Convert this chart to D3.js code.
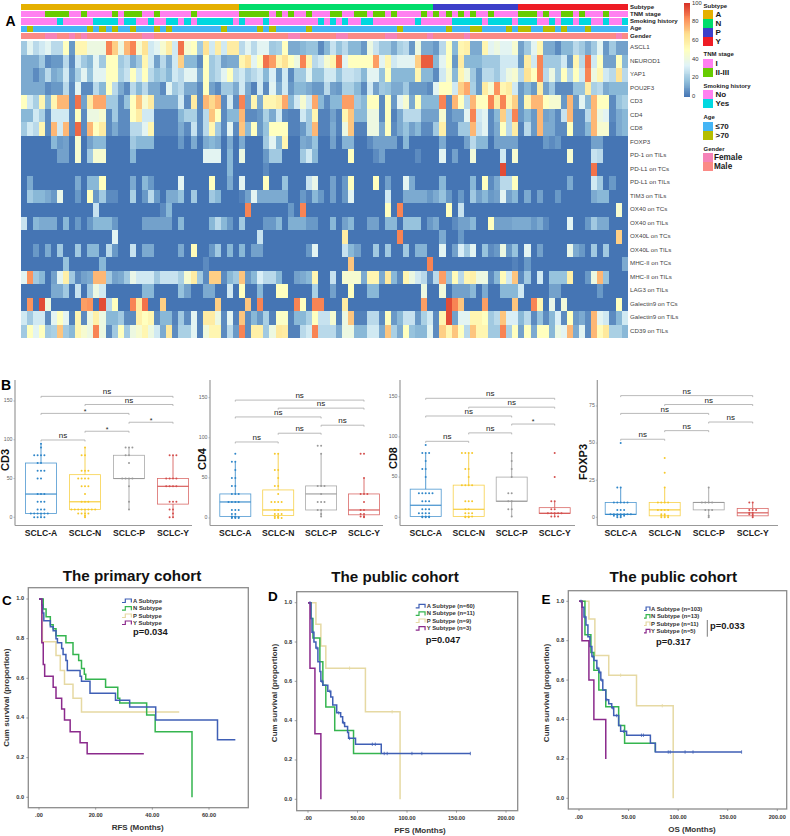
<!DOCTYPE html>
<html><head><meta charset="utf-8">
<script src="https://cdnjs.cloudflare.com/ajax/libs/d3/7.8.5/d3.min.js"></script>
<style>html,body{margin:0;padding:0;background:#fff}svg{display:block}text{font-family:"Liberation Sans",Arial,sans-serif}</style>
</head><body><svg id="c" width="790" height="836"></svg>
<script>
// ---------- Panel A data ----------
const geneLabels=["ASCL1","NEUROD1","YAP1","POU2F3","CD3","CD4","CD8","FOXP3","PD-1 on TILs","PD-L1 on TCs","PD-L1 on TILs","TIM3 on TILs","OX40 on TCs","OX40 on TILs","OX40L on TCs","OX40L on TILs","MHC-II on TCs","MHC-II on TILs","LAG3 on TILs","Galectin9 on TCs","Galectin9 on TILs","CD39 on TILs"];
const ASCL1=[20,35,25,30,35,25,25,50,8,55,55,40,40,40,85,70,40,75,85,45,65,30,35,45,60,30,88,45,50,20,65,30,60,30,60,60,
25,35,25,35,35,20,22,50,12,12,15,18,18,5,15,28,18,25,15,15,8,40,28,20,20,12,22,25,8,40,12,12,8,25,50,15,55,58,12,12,55,35,40,
35,35,45,10,20,35,55,12,12,5,15,15,25,20,12,20,35,8,20,10,10];
const NEUROD1=[12,12,12,20,5,8,8,25,5,30,20,15,35,20,50,50,20,25,12,20,55,30,10,25,12,30,70,15,15,5,50,20,25,10,12,12,
55,65,35,50,88,80,55,65,50,40,85,55,25,30,45,55,88,35,50,50,50,50,80,35,55,30,35,35,35,70,92,92,15,35,50,8,60,15,15,15,20,20,20,
30,30,30,8,60,30,85,20,20,20,30,8,55,25,88,30,50,10,10,50,15];
const YAP1=[12,12,5,12,25,12,15,30,8,22,35,18,35,35,50,50,22,28,50,30,50,25,18,22,15,30,25,35,35,12,50,20,25,35,50,25,
30,20,25,30,15,32,8,30,5,20,20,35,18,18,30,30,18,28,28,25,15,35,35,18,50,15,15,15,15,55,15,15,5,30,45,15,55,40,20,8,25,25,20,
30,40,45,25,65,50,85,25,40,20,50,25,50,30,85,40,55,30,25,65,25];
const POU2F3=[12,12,12,12,5,8,8,25,5,35,5,5,25,15,50,25,12,5,25,15,25,12,12,5,35,20,25,12,12,5,50,10,5,20,20,12,
30,12,3,30,5,35,12,30,8,15,15,12,8,8,25,10,8,22,22,15,5,30,10,20,18,12,12,20,8,8,8,5,35,50,50,30,70,78,22,8,60,45,82,
55,60,30,8,15,8,60,10,20,5,5,5,18,18,60,22,25,12,15,15,15];
const CD3=[50,30,22,55,15,55,75,75,5,88,10,60,78,78,20,20,5,18,50,72,45,60,12,12,12,12,30,5,60,5,75,68,75,5,30,5,
85,10,55,12,55,55,60,78,15,30,45,30,78,15,5,15,15,80,80,20,15,50,50,5,50,8,35,45,12,50,15,15,15,85,5,75,50,25,75,50,50,85,60,
85,55,70,8,55,75,75,50,45,45,8,75,8,35,15,75,50,50,5,18,22];
const CD4=[15,15,30,22,5,30,30,30,5,50,5,40,40,45,5,20,5,5,50,60,30,30,3,3,3,3,15,22,22,5,25,72,50,5,15,15,
75,5,5,8,22,12,30,5,3,3,30,20,55,3,3,10,3,55,72,15,15,40,40,5,50,3,12,25,25,25,10,10,10,45,5,10,10,35,85,30,35,5,15,
70,25,85,8,15,8,75,10,12,5,28,75,5,5,25,75,40,35,5,12,15];
const CD8=[20,30,25,55,5,75,30,75,5,90,5,75,50,60,5,12,5,5,25,25,35,55,3,3,3,3,12,5,28,5,25,55,20,5,35,5,
72,15,50,8,18,50,50,50,3,3,8,20,75,3,3,12,3,40,72,3,3,40,40,12,50,5,12,18,10,15,5,5,20,58,5,5,20,20,75,28,35,5,12,
50,25,60,3,25,8,75,12,12,5,5,50,5,5,15,75,45,45,3,12,15];
const FOXP3=[0,0,0,0,0,15,8,10,0,45,0,10,15,15,0,0,0,0,20,15,15,15,0,0,0,0,8,0,12,0,12,15,12,0,12,0,
12,0,0,0,20,35,15,55,0,0,12,10,18,0,0,10,0,14,14,0,0,5,10,10,10,10,0,15,0,0,0,0,0,12,0,0,0,10,25,15,15,0,10,
10,10,10,0,0,0,0,8,5,8,0,0,0,0,0,10,10,0,0,0,0];
const PD1_TIL=[0,0,0,0,0,0,10,10,0,45,0,20,45,45,0,0,0,0,15,0,0,0,0,0,0,0,0,0,0,0,35,35,35,0,15,0,
40,0,0,0,8,20,20,0,0,0,20,30,15,0,0,0,0,0,50,0,0,0,5,10,0,0,0,0,0,5,0,0,0,35,0,10,0,0,42,0,0,0,0,
30,0,45,0,0,0,0,0,0,0,0,45,0,0,0,28,25,0,0,0,0];
const PDL1_TC=[0,0,0,0,0,0,0,0,0,0,0,0,0,0,0,0,0,0,0,0,0,0,0,0,0,0,0,0,0,0,0,0,0,0,15,0,
0,0,0,0,5,0,0,0,0,0,0,0,0,0,0,0,0,0,0,0,0,0,0,0,0,0,0,0,0,0,0,0,0,0,0,0,0,0,0,0,0,0,0,
95,0,0,0,0,0,0,0,0,0,0,0,0,0,0,88,0,0,0,0,0];
const PDL1_TIL=[0,12,0,0,0,0,0,0,0,12,0,15,15,50,0,0,0,0,12,0,15,8,0,0,0,0,35,0,0,0,0,50,0,0,12,0,
35,0,0,0,50,0,0,18,0,0,0,28,38,0,0,10,0,8,50,0,0,0,50,0,10,0,0,35,12,0,0,0,0,15,0,0,0,0,15,0,50,5,12,
25,25,50,0,0,0,0,0,0,0,0,12,0,0,0,30,20,0,8,0,0];
const TIM3_TIL=[0,20,15,15,12,8,38,0,0,8,0,50,8,20,5,5,0,0,22,0,8,25,8,0,12,12,18,0,20,0,0,20,15,0,0,0,
3,10,35,12,12,12,12,12,0,0,8,3,15,8,0,10,0,8,35,0,0,0,0,0,30,0,0,12,12,12,12,8,12,18,8,0,8,0,20,10,15,8,10,
35,10,15,0,12,0,10,0,0,8,0,0,0,0,0,12,15,15,0,0,0];
const OX40_TC=[0,0,0,0,0,0,0,0,0,0,0,0,28,0,0,0,0,0,0,0,0,0,0,5,15,0,0,0,0,0,0,0,0,0,0,0,
0,85,0,0,0,0,0,0,8,0,85,0,0,0,0,0,0,0,0,0,0,0,0,0,50,0,85,0,0,0,0,0,0,0,50,0,28,0,0,0,0,0,0,
0,0,0,0,0,0,0,0,0,0,0,0,0,0,0,0,0,0,0,45,0];
const OX40_TIL=[28,0,15,12,12,12,0,15,0,8,0,8,15,15,15,8,0,0,0,0,10,10,10,10,10,0,15,0,0,0,0,15,25,15,8,0,
20,0,0,0,8,8,15,0,13,13,13,8,8,0,0,15,0,10,15,0,0,10,10,0,15,15,0,18,18,18,0,8,12,0,0,5,10,10,15,0,0,50,10,
10,10,12,12,12,8,12,5,0,0,0,35,0,0,8,20,12,12,0,0,0];
const OX40L_TC=[0,0,0,0,0,0,0,0,0,0,0,0,0,0,0,35,0,0,0,0,0,0,0,0,0,0,0,0,0,0,0,0,0,0,0,0,
0,0,0,28,0,0,0,0,0,0,0,0,0,0,0,0,0,60,0,0,0,0,0,0,0,0,85,0,0,0,0,0,0,12,0,0,8,0,0,0,0,0,0,
0,0,0,0,0,0,0,0,0,0,0,0,0,0,0,0,0,0,0,70,0];
const OX40L_TIL=[0,0,8,0,12,0,20,0,0,20,0,15,15,0,25,8,0,0,28,0,12,12,0,0,0,0,12,0,52,0,0,8,20,0,15,0,
15,0,10,10,0,0,0,0,0,0,0,8,35,0,0,0,0,28,15,10,0,0,20,0,20,0,0,20,0,14,14,0,0,35,0,10,32,20,35,0,18,5,8,
40,8,18,0,35,0,10,0,0,0,0,38,12,8,0,20,0,20,0,0,0];
const MHC2_TC=[0,0,0,0,0,0,0,18,0,0,0,0,0,15,0,0,0,0,0,0,0,0,0,0,0,0,0,0,0,0,5,0,0,0,0,0,
0,0,0,0,0,0,0,0,0,0,0,0,0,0,0,0,0,0,72,0,0,0,0,0,0,0,0,0,0,0,0,85,0,0,0,0,0,0,0,0,0,0,0,
0,0,3,0,8,0,0,0,0,0,0,0,0,0,0,0,0,0,0,0,12];
const MHC2_TIL=[35,82,20,15,0,10,35,58,20,5,10,12,75,75,20,10,12,20,38,30,30,30,20,28,28,28,22,45,60,20,5,70,70,5,15,20,
72,8,15,32,25,25,15,0,0,10,12,15,55,0,0,28,0,45,45,45,12,55,55,12,62,15,5,55,40,30,25,5,25,80,18,52,25,55,58,40,40,5,15,
52,30,72,5,20,0,30,0,18,18,18,58,0,0,8,40,75,18,0,0,0];
const LAG3_TIL=[0,0,0,0,0,12,12,20,0,28,0,20,40,30,0,0,0,0,0,0,15,15,0,0,0,0,18,10,0,0,12,12,0,0,30,0,
50,0,0,15,0,0,50,50,0,0,0,0,22,0,0,10,0,0,50,0,0,15,15,0,0,0,0,0,0,0,40,0,0,42,0,10,10,10,15,0,12,0,0,
15,15,15,30,0,0,0,0,10,10,0,0,0,0,0,0,8,0,0,0,0];
const GAL9_TC=[0,82,0,95,40,0,0,0,0,0,80,82,0,95,25,50,0,0,85,60,88,0,0,70,0,0,0,0,0,0,0,0,70,0,0,0,
0,72,0,85,0,0,0,0,0,85,50,0,85,85,0,0,0,60,0,0,0,0,0,0,0,0,0,0,0,0,80,0,0,0,95,85,72,0,0,0,80,0,0,
0,0,72,0,0,85,55,0,38,0,42,0,0,0,0,0,0,0,0,50,0];
const GAL9_TIL=[30,20,30,30,5,35,50,35,3,55,5,40,58,40,15,15,20,5,5,58,50,55,5,15,15,3,20,5,35,3,60,60,40,5,35,3,
72,5,15,8,22,3,48,48,3,15,15,22,50,28,28,45,3,40,72,3,3,25,25,5,50,8,15,28,28,8,22,30,5,55,95,10,35,35,55,55,50,20,25,
72,32,32,15,25,5,18,5,15,32,5,50,8,12,5,75,35,30,5,15,30];
const CD39_TIL=[20,50,35,50,20,22,72,20,15,55,45,40,85,40,5,20,50,20,40,45,55,40,30,12,62,5,22,22,35,3,42,55,55,5,25,8,
85,5,58,58,20,40,62,60,3,3,25,30,85,25,25,25,12,40,40,15,15,30,30,12,72,22,12,50,18,15,15,35,5,70,55,72,50,25,72,55,55,20,20,
85,22,50,10,50,12,50,50,15,40,35,75,12,35,5,75,52,62,22,22,15];
const heatRows=[ASCL1,NEUROD1,YAP1,POU2F3,CD3,CD4,CD8,FOXP3,PD1_TIL,PDL1_TC,PDL1_TIL,TIM3_TIL,OX40_TC,OX40_TIL,OX40L_TC,OX40L_TIL,MHC2_TC,MHC2_TIL,LAG3_TIL,GAL9_TC,GAL9_TIL,CD39_TIL];
// annotation tracks: column index lists of the minority level
const subtypeEnds=[36,68,82,100];
const subtypeNames=["A","N","P","Y"];
const tnmAdvanced=[4,5,6,7,10,15,17,18,19,22,28,36,37,38,39,40,42,44,47,51,52,55,56,58,59,61,66,68,70,72,74,77,82,83,84,86,89,90,92,96];
const smokingYes=[6,12,13,14,15,17,18,21,24,25,27,29,30,31,32,33,34,36,40,49,51,53,56,57,65,71,72,73,74,75,77,78,79,80,82,83,84,87,89,90,92,93,96,99];
const ageOver70=[1,11,13,15,18,22,24,33,39,41,47,62,70,74,75,80,82,83,86,87,89,93];
const femaleCols=[4,5,8,10,20,21,44,45,52,53,60,61,67,73,98];
const annoLabels=["Subtype","TNM stage","Smoking history","Age","Gender"];
const legendGroups=[["Subtype",["A","N","P","Y"]],["TNM stage",["I","II-III"]],["Smoking history",["No","Yes"]],["Age",["≤70",">70"]],["Gender",["Female","Male"]]];
const colorbarTicks=[0,20,40,60,80,100];
const heatStops=["#4575B4","#91BFDB","#E0F3F8","#FFFFBF","#FEE090","#FC8D59","#D73027"];

// ---------- Panel B data ----------
const boxCats=["SCLC-A","SCLC-N","SCLC-P","SCLC-Y"];
const boxColors=["#2f86c9","#f6c92c","#9a9a9a","#d4504e"];
// [q1, median, q3, whisker low, whisker high]
const cd3Box=[[5,30,70,0,95],[10,20,55,0,90],[50,50,80,10,90],[17,40,50,0,80]];
const cd4Box=[[2,20,30,0,70],[3,10,35,0,80],[10,30,40,2,80],[4,10,30,1,50]];
const cd8Box=[[1,15,35,0,80],[1,10,40,0,80],[20,20,50,1,80],[5,5,12,1,20]];
const foxBox=[[2,2,10,0,20],[1,5,10,0,20],[5,10,10,0,20],[1,3,6,0,10]];
const cd3Pts=[[95,90,80,80,80,80,70,70,60,60,60,50,50,30,30,30,20,20,20,10,10,10,5,5,5,5,5,5,0,0,0,0],[90,80,80,60,60,60,50,50,50,50,40,40,40,30,20,20,20,10,10,10,10,10,10,10,10,5,5,5,5,2,0],[90,90,90,80,80,70,50,50,50,50,40,20,10],[80,80,80,50,50,50,50,40,40,40,40,20,20,20,10,10,5,0,0]];
const cd4Pts=[[80,70,70,60,50,50,40,40,30,30,30,20,20,20,20,10,10,10,5,5,2,2,1,1,1,0,0,0],[80,80,60,60,50,40,40,30,20,20,20,20,10,10,5,5,5,2,2,1,0,0,0],[90,90,80,40,40,40,30,20,20,20,10,10,5,2],[80,80,50,30,30,30,20,10,10,5,5,2,2,1]];
const cd8Pts=[[90,80,80,80,70,60,60,50,30,30,30,30,30,20,20,20,10,10,10,5,5,5,5,1,1,1,0,0,0],[80,80,80,80,60,60,50,40,40,40,40,20,20,20,10,10,5,5,5,1,1,1,0,0],[80,70,60,50,30,30,20,20,10,10,1],[80,50,20,20,10,10,5,5,5,5,5,1,1,1]];
const foxPts=[[50,20,20,10,10,10,10,10,5,5,5,2,2,2,2,2,2,2,1,1,1,1,0,0],[40,30,20,10,10,10,10,5,5,5,5,2,2,1,1,1,0,0,0],[20,10,10,10,10,5,5,5,1,0],[10,10,5,5,5,3,3,2,2,1,0]];
// comparison brackets: from-category, to-category
const bracketPairs=[[0,3],[1,3],[0,2],[2,3],[1,2],[0,1]];
const cd3Levels=[156,145.5,134,122.6,111,99.7], cd3Sig=["ns","ns","*","*","*","ns"];
const cd4Levels=[147,137,126,115.7,105.7,94.8], cd4Sig=["ns","ns","ns","ns","ns","ns"];
const cd8Levels=[148,137,126,116,105,94.5], cd8Sig=["ns","ns","ns","*","ns","ns"];
const foxLevels=[82,76,70,64.2,58.4,52.6], foxSig=["ns","ns","ns","ns","ns","ns"];
const cd3Ticks=[0,50,100,150], cd4Ticks=[0,50,100,150], cd8Ticks=[0,50,100,150], foxTicks=[0,25,50,75];

// ---------- Panels C-E data ----------
const kmColors=["#3f5fb5","#35b54f","#e6d9a3","#8b2a8c"];
const survTicks=[0,0.2,0.4,0.6,0.8,1.0];
const rfsAt=[0,1,1.3,1.7,2,4,5,6,6.5,8,8.5,9.5,10,14.5,15,18,27,32,41.2,63,69.3], rfsAs=[1,.97,.93,.89,.89,.86,.84,.80,.78,.75,.72,.69,.64,.61,.585,.525,.49,.455,.39,.29,.29];
const rfsNt=[0,1.5,2.5,4,5,6,9.5,12,14,15,16,16.5,23.5,27.8,28.5,38,41,54,54], rfsNs=[1,.95,.91,.87,.85,.815,.78,.72,.69,.65,.62,.595,.555,.5,.475,.415,.33,.33,0];
const rfsPt=[0,1.2,6,7.5,9,12,15,49.5], rfsPs=[1,.785,.715,.64,.57,.5,.43,.43];
const rfsYt=[0,1,1.5,2,5,6,8,9,11,14.5,17,37], rfsYs=[1,.78,.67,.61,.555,.5,.445,.39,.33,.275,.22,.22];
const pfsAt=[0,1,3,4,6,8,10,12,13,15,20,23,25,29,33,35,37,40,41,48,74,164], pfsAs=[1,1,.92,.85,.80,.77,.70,.65,.60,.58,.55,.52,.48,.44,.42,.39,.37,.34,.31,.28,.233,.233];
const pfsNt=[0,3,5,12,15,18,27,46,74], pfsNs=[1,.92,.82,.70,.58,.47,.35,.233,.233];
const pfsPt=[0,5,8,13,18,58,93,93], pfsPs=[1,1,.89,.78,.667,.445,.445,0];
const pfsYt=[0,2,7,13,13], pfsYs=[1,.667,.333,.333,0];
const pfsCensorAt=[2,5,9,14,22,31,36,42,65,68,77,80,105,115,164], pfsCensorAs=[1,.85,.77,.60,.55,.44,.39,.31,.28,.28,.233,.233,.233,.233,.233];
const pfsCensorPt=[42,85], pfsCensorPs=[.667,.445];
const osAt=[0,3,5,7,9,11,13,15,18,20,22,24,27,30,33,35,40,42,48,72,77,164], osAs=[1,.97,.92,.88,.82,.77,.72,.70,.66,.64,.60,.55,.50,.48,.46,.42,.37,.34,.32,.28,.235,.235];
const osNt=[0,6,12,15,20,27,40,46,77], osNs=[1,.83,.74,.65,.55,.465,.37,.28,.235];
const osPt=[0,10,16,30,58,95,95], osPs=[1,.91,.725,.625,.47,.47,0];
const osYt=[0,3,10,15,27,27], osYs=[1,.80,.60,.40,.40,.20];
const osCensorAt=[2,6,14,19,21,23,28,34,38,45,63,65,90,92,107,115,164], osCensorAs=[1,.92,.72,.66,.64,.60,.50,.46,.42,.34,.32,.32,.235,.235,.235,.235,.235];
const osCensorPt=[42,84], osCensorPs=[.625,.47];
const rfsTicks=[0,20,40,60], publicTicks=[0,50,100,150,200];
const legendC=["A Subtype","N Subtype","P Subtype","Y Subtype"];
const legendD=["A Subtype (n=60)","N Subtype (n=11)","P Subtype (n=9)","Y Subtype (n=3)"];
const legendE=["A Subtype (n=103)","N Subtype (n=13)","P Subtype (n=11)","Y Subtype (n=5)"];

// ---------- drawing ----------
const svg=d3.select("#c");
const txt=(x,y,s,o={})=>svg.append("text").attr("x",x).attr("y",y).text(s)
  .attr("font-size",o.size||7).attr("font-weight",o.weight||"normal").attr("fill",o.fill||"#111")
  .attr("text-anchor",o.anchor||"start").attr("dominant-baseline",o.base||"auto")
  .attr("font-family",o.font||null).attr("transform",o.rot?`rotate(${o.rot} ${x} ${y})`:null);
const LATO='Lato,"Liberation Sans",sans-serif';

// Panel A
txt(5.5,26,"A",{size:14,weight:"bold",fill:"#000"});
const nCols=100;
const hx=d3.scaleBand().domain(d3.range(nCols)).range([20.5,627.7]);
const hy=d3.scaleBand().domain(geneLabels).range([41,338]);
const heatColor=d3.scaleLinear().domain(heatStops.map((c,i)=>i*100/(heatStops.length-1))).range(heatStops).clamp(true);
const heat=svg.append("g").attr("shape-rendering","crispEdges");
heatRows.forEach((row,r)=>{
  heat.selectAll(null).data(row).enter().append("rect")
   .attr("x",(d,i)=>hx(i)).attr("y",hy(geneLabels[r])).attr("width",hx.bandwidth()+.4).attr("height",hy.bandwidth()+.4)
   .attr("fill",d=>heatColor(d));
});
geneLabels.forEach(g=>txt(630,hy(g)+hy.bandwidth()/2,g,{size:6.2,fill:"#444",base:"middle"}));
const subColor=["#E5B000","#00DD6A","#3C3FC9","#EE1C25"];
const tnmCol=["#FF80F0","#66CC00"], smkCol=["#FF80F0","#00D8E0"], ageCol=["#45B5F5","#B5BE00"], genCol=["#F583B8","#FB8A86"];
const trackY=d3.scaleBand().domain(annoLabels).range([4,39]).paddingInner(0.14);
const subIdx=i=>subtypeEnds.findIndex(e=>i<e);
const trackFns=[i=>subColor[subIdx(i)],i=>tnmCol[tnmAdvanced.includes(i)?1:0],i=>smkCol[smokingYes.includes(i)?1:0],i=>ageCol[ageOver70.includes(i)?1:0],i=>genCol[femaleCols.includes(i)?0:1]];
annoLabels.forEach((a,k)=>{
  heat.selectAll(null).data(d3.range(nCols)).enter().append("rect")
   .attr("x",i=>hx(i)).attr("y",trackY(a)).attr("width",hx.bandwidth()+.4).attr("height",trackY.bandwidth()).attr("fill",trackFns[k]);
  txt(630,trackY(a)+trackY.bandwidth()/2,a,{size:6.1,weight:"bold",fill:"#222",base:"middle"});
});
// colour bar
const cbY=d3.scaleLinear().domain([0,100]).range([96.5,3]);
d3.range(0,100,1).forEach(v=>heat.append("rect").attr("x",684).attr("width",5.5).attr("y",cbY(v+1)).attr("height",cbY(v)-cbY(v+1)+.4).attr("fill",heatColor(v+.5)));
colorbarTicks.forEach(t=>txt(692,cbY(t),t,{size:5.8,fill:"#333",base:"middle"}));
// legends
const legendTitleY=[6,54.7,86.3,117.7,149], legendFirstY=[10,59,90.3,121.7,153];
const legCol=[subColor,tnmCol,smkCol,ageCol,genCol];
legendGroups.forEach(([title,items],g)=>{
  txt(703.5,legendTitleY[g],title,{size:6,weight:"bold",fill:"#222",base:"middle"});
  items.forEach((it,i)=>{
    const y=legendFirstY[g]+i*9;
    heat.append("rect").attr("x",703.3).attr("y",y).attr("width",9.4).attr("height",9).attr("fill",legCol[g][i]);
    txt(g==4?714:715.5,y+4.8,it,{size:g==4?8.2:8,weight:"bold",fill:"#1a1a1a",base:"middle",font:LATO});
  });
});

// Panel B
txt(1,390,"B",{size:14,weight:"bold",fill:"#000"});
const boxPanels=[
 {name:"CD3",box:cd3Box,pts:cd3Pts,lev:cd3Levels,sig:cd3Sig,ticks:cd3Ticks,ax:15,right:192,y0:517.3,yT:401,vT:150,cats:[41,173],lx:6,ly:460},
 {name:"CD4",box:cd4Box,pts:cd4Pts,lev:cd4Levels,sig:cd4Sig,ticks:cd4Ticks,ax:210,right:383,y0:518,yT:397.7,vT:150,cats:[235.3,364],lx:203,ly:459},
 {name:"CD8",box:cd8Box,pts:cd8Pts,lev:cd8Levels,sig:cd8Sig,ticks:cd8Ticks,ax:400,right:575,y0:517.3,yT:396.7,vT:150,cats:[425.7,554.7],lx:394,ly:458},
 {name:"FOXP3",box:foxBox,pts:foxPts,lev:foxLevels,sig:foxSig,ticks:foxTicks,ax:597.3,right:778,y0:517.3,yT:406,vT:75,cats:[620.7,752.7],lx:584,ly:462}];
boxPanels.forEach(p=>{
  const y=d3.scaleLinear().domain([0,p.vT]).range([p.y0,p.yT]);
  const x=d3.scalePoint().domain(boxCats).range(p.cats);
  const g=svg.append("g");
  const axCol="#999";
  g.append("line").attr("x1",p.ax).attr("x2",p.ax).attr("y1",380).attr("y2",525.5).attr("stroke",axCol).attr("stroke-width",1.2);
  g.append("line").attr("x1",p.ax).attr("x2",p.right).attr("y1",525.5).attr("y2",525.5).attr("stroke",axCol).attr("stroke-width",1.2);
  p.ticks.forEach(t=>{
    g.append("line").attr("x1",p.ax-1.5).attr("x2",p.ax).attr("y1",y(t)).attr("y2",y(t)).attr("stroke",axCol).attr("stroke-width",.7);
    txt(p.ax-2.5,y(t),t,{size:5.2,fill:"#666",anchor:"end",base:"middle"});
  });
  txt(p.lx,p.ly,p.name,{size:11,weight:"bold",fill:"#111",anchor:"middle",rot:-90,font:LATO,base:"middle"});
  boxCats.forEach((c,i)=>{
    const [q1,m,q3,lo,hi]=p.box[i], cx=x(c), col=boxColors[i], w=15.5;
    g.append("line").attr("x1",cx).attr("x2",cx).attr("y1",y(q3)).attr("y2",y(hi)).attr("stroke",col).attr("stroke-width",1).attr("opacity",.8);
    g.append("line").attr("x1",cx).attr("x2",cx).attr("y1",y(q1)).attr("y2",y(lo)).attr("stroke",col).attr("stroke-width",1).attr("opacity",.8);
    g.append("rect").attr("x",cx-w).attr("width",2*w).attr("y",y(q3)).attr("height",y(q1)-y(q3)).attr("fill","none").attr("stroke",col).attr("stroke-width",.8).attr("opacity",.85);
    g.append("line").attr("x1",cx-w).attr("x2",cx+w).attr("y1",y(m)).attr("y2",y(m)).attr("stroke",col).attr("stroke-width",1.1);
    const seen={};
    p.pts[i].forEach(v=>{
      const n=seen[v]=(seen[v]||0)+1, off=(n%2?1:-1)*Math.floor(n/2)*3.4;
      g.append("circle").attr("cx",cx+off).attr("cy",y(v)).attr("r",1).attr("fill",col);
    });
    txt(cx,533.7,c,{size:8.6,weight:"bold",fill:"#1a1a1a",anchor:"middle",base:"middle",font:LATO});
  });
  bracketPairs.forEach(([a,b],k)=>{
    const x1=x(boxCats[a]),x2=x(boxCats[b]),yy=y(p.lev[k]);
    g.append("path").attr("d",`M${x1},${yy+1.5}V${yy}H${x2}V${yy+1.5}`).attr("fill","none").attr("stroke","#a8a8a8").attr("stroke-width",.8);
    txt((x1+x2)/2,yy-(p.sig[k]=="*"?1.5:4),p.sig[k],{size:p.sig[k]=="*"?7:8,fill:"#222",anchor:"middle",base:"middle",font:LATO});
  });
});

// Panels C-E
const kmPanels=[
 {l:"C",lx:2,ly:605,title:"The primary cohort",tx:132,ty:581,frame:[28.3,248.3,587.7,807.7],x0:39,xTv:60,xT:209,y1:599,y0:797.3,ticks:rfsTicks,xlab:"RFS (Months)",xlx:137.7,xly:828,ylx:7,yly:697.7,tickY:815.7,ytx:24,
  curves:[[rfsAt,rfsAs],[rfsNt,rfsNs],[rfsPt,rfsPs],[rfsYt,rfsYs]],leg:legendC,legX:122,legTx:133,legY:[601,608.7,616,623],cens:[[[],[]],[[],[]]],
  ps:[["p=0.034",133,632.7]]},
 {l:"D",lx:268,ly:601,title:"The public cohort",tx:395,ty:582,frame:[296.7,517.7,591.7,810.7],x0:308,xTv:200,xT:506,y1:602.7,y0:799.3,ticks:publicTicks,xlab:"PFS (Months)",xlx:420,xly:830.7,ylx:275,yly:693,tickY:818.7,ytx:292,
  curves:[[pfsAt,pfsAs],[pfsNt,pfsNs],[pfsPt,pfsPs],[pfsYt,pfsYs]],leg:legendD,legX:415.7,legTx:426.7,legY:[606.3,613.9,621,628.7],cens:[[pfsCensorAt,pfsCensorAs],[pfsCensorPt,pfsCensorPs]],
  ps:[["p=0.047",425.7,640.3]]},
 {l:"E",lx:541.5,ly:604,title:"The public cohort",tx:673.3,ty:582,frame:[568.3,786.7,590.7,809],x0:579,xTv:200,xT:777.3,y1:601.3,y0:798.3,ticks:publicTicks,xlab:"OS (Months)",xlx:692,xly:830,ylx:547,yly:693,tickY:817.5,ytx:564,
  curves:[[osAt,osAs],[osNt,osNs],[osPt,osPs],[osYt,osYs]],leg:legendE,legX:644,legTx:651,legY:[609,616.7,624,631.3],cens:[[osCensorAt,osCensorAs],[osCensorPt,osCensorPs]],
  ps:[["p=0.033",710,626.7],["p=0.317",656,642.7]]}];
kmPanels.forEach(p=>{
  const g=svg.append("g");
  const [fl,fr,ft,fb]=p.frame;
  const x=d3.scaleLinear().domain([0,p.xTv]).range([p.x0,p.xT]);
  const y=d3.scaleLinear().domain([0,1]).range([p.y0,p.y1]);
  g.append("rect").attr("x",fl).attr("y",ft).attr("width",fr-fl).attr("height",fb-ft).attr("fill","#fff").attr("stroke","#8c8c8c").attr("stroke-width",1.3);
  txt(p.lx,p.ly,p.l,{size:13.5,weight:"bold",fill:"#000"});
  txt(p.tx,p.ty,p.title,{size:15.2,weight:"bold",fill:"#111",anchor:"middle",font:LATO});
  p.ticks.forEach(t=>{
    g.append("line").attr("x1",x(t)).attr("x2",x(t)).attr("y1",fb).attr("y2",fb+2).attr("stroke","#777").attr("stroke-width",.7);
    txt(x(t),p.tickY,t===0?".00":t.toFixed(2),{size:5.6,weight:"bold",fill:"#333",anchor:"middle",base:"middle"});
  });
  survTicks.forEach(t=>{
    g.append("line").attr("x1",fl-2).attr("x2",fl).attr("y1",y(t)).attr("y2",y(t)).attr("stroke","#777").attr("stroke-width",.7);
    txt(p.ytx,y(t),t.toFixed(1),{size:5.6,weight:"bold",fill:"#333",anchor:"end",base:"middle"});
  });
  txt(p.xlx,p.xly,p.xlab,{size:8,weight:"bold",fill:"#333",anchor:"middle",base:"middle"});
  txt(p.ylx,p.yly,"Cum survival (proportion)",{size:8,weight:"bold",fill:"#333",anchor:"middle",base:"middle",rot:-90});
  const line=d3.line().curve(d3.curveStepAfter).x(d=>x(d[0])).y(d=>y(d[1]));
  [2,1,0,3].forEach(i=>{
    const [ts,ss]=p.curves[i];
    g.append("path").attr("d",line(ts.map((t,k)=>[t,ss[k]]))).attr("fill","none").attr("stroke",kmColors[i]).attr("stroke-width",1.5);
  });
  p.cens.forEach(([ts,ss],k)=>ts.forEach((t,j)=>{
    const c=k==0?0:2;
    g.append("line").attr("x1",x(t)).attr("x2",x(t)).attr("y1",y(ss[j])-1.7).attr("y2",y(ss[j])+1.7).attr("stroke",kmColors[c]).attr("stroke-width",.8);
  }));
  p.leg.forEach((s,i)=>{
    const ly=p.legY[i], w=p.legTx-p.legX;
    g.append("path").attr("d",`M${p.legX},${ly+1.5}H${p.legX+w*.3}V${ly-2}H${p.legX+w*.85}V${ly+1.5}`).attr("fill","none").attr("stroke",kmColors[i]).attr("stroke-width",1.2);
    txt(p.legTx,ly,s,{size:5.9,weight:"bold",fill:"#333",base:"middle"});
  });
  p.ps.forEach(([s,px,py])=>txt(px,py,s,{size:9.4,weight:"bold",fill:"#1a1a1a",base:"middle",font:LATO}));
  if(p.l=="E") g.append("line").attr("x1",707.3).attr("x2",707.3).attr("y1",620).attr("y2",636.7).attr("stroke","#444").attr("stroke-width",.7);
});
</script></body></html>
